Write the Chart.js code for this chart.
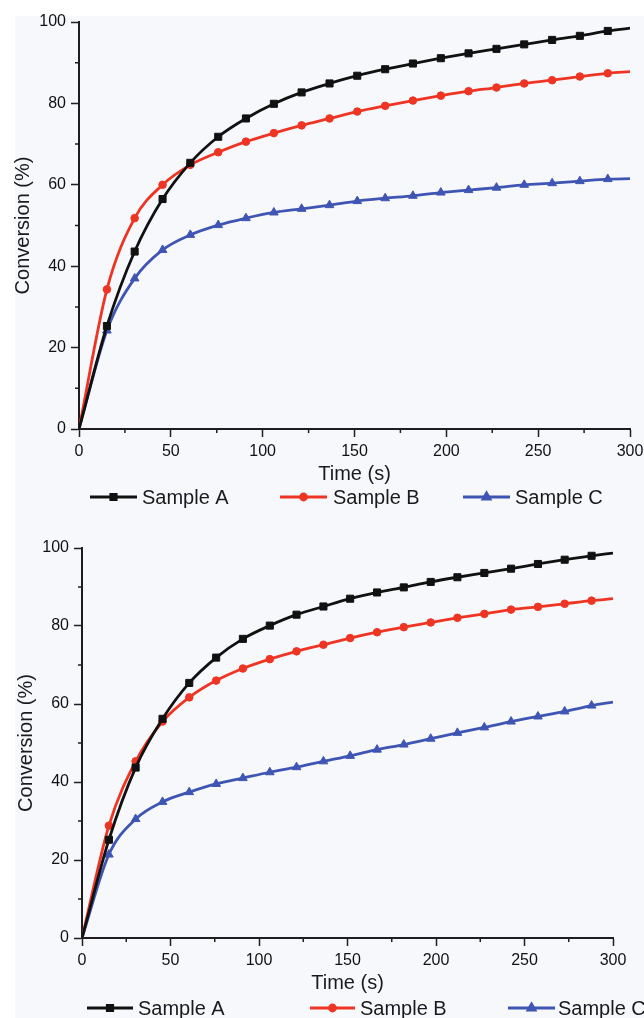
<!DOCTYPE html>
<html>
<head>
<meta charset="utf-8">
<script src="https://cdn.jsdelivr.net/npm/chart.js@4/dist/chart.umd.min.js"></script>
<style>
  html, body { margin: 0; padding: 0; background: #ffffff; }
  body { width: 644px; height: 1018px; position: relative; overflow: hidden; }
  #bg { position: absolute; left: 15px; top: 16px; width: 629px; height: 1002px; background: #f7f8fc; }
  canvas { position: absolute; left: 0; }
  #top { top: 0; }
  #bottom { top: 510px; }
</style>
</head>
<body>
<div id="bg"></div>
<canvas id="top" width="644" height="510"></canvas>
<canvas id="bottom" width="644" height="508"></canvas>
<script>
// time points (s) where the markers sit, last one is the curve end
const times = [0, 15.2, 30.3, 45.5, 60.6, 75.8, 90.9, 106.1, 121.2, 136.4, 151.5, 166.7, 181.8, 197.0, 212.1, 227.3, 242.4, 257.6, 272.7, 287.9, 300];

const seriesNames = ['Sample A', 'Sample B', 'Sample C'];

// upper panel
const topA = [0, 25.3, 43.6, 56.5, 65.4, 71.8, 76.3, 79.9, 82.7, 84.9, 86.8, 88.4, 89.8, 91.1, 92.3, 93.4, 94.5, 95.6, 96.6, 97.8, 98.5];
const topB = [0, 34.3, 51.8, 60.0, 64.9, 68.0, 70.6, 72.7, 74.6, 76.3, 78.0, 79.4, 80.7, 81.9, 83.0, 83.9, 84.9, 85.7, 86.6, 87.4, 87.8];
const topC = [0, 24.2, 37.0, 44.0, 47.7, 50.1, 51.8, 53.2, 54.1, 55.0, 56.0, 56.7, 57.3, 58.1, 58.7, 59.3, 60.0, 60.4, 60.9, 61.4, 61.5];

// lower panel
const botA = [0, 25.2, 43.7, 56.2, 65.4, 71.9, 76.7, 80.1, 82.9, 85.0, 87.0, 88.6, 89.9, 91.3, 92.5, 93.6, 94.7, 95.9, 97.0, 98.0, 98.7];
const botB = [0, 28.8, 45.3, 55.5, 61.7, 66.0, 69.1, 71.5, 73.5, 75.2, 76.9, 78.4, 79.7, 80.9, 82.1, 83.1, 84.2, 84.9, 85.7, 86.5, 87.0];
const botC = [0, 21.4, 30.5, 34.9, 37.4, 39.5, 41.0, 42.5, 43.8, 45.3, 46.7, 48.3, 49.6, 51.1, 52.6, 54.0, 55.5, 56.8, 58.1, 59.6, 60.5];

const yMajor = [0, 20, 40, 60, 80, 100];
const yMinor = [10, 30, 50, 70, 90];
const xMajor = [0, 50, 100, 150, 200, 250, 300];
const xMinor = [25, 75, 125, 175, 225, 275];

const colors = ['#111111', '#ee3524', '#3f55b3'];
const markers = ['rect', 'circle', 'triangle'];
const markerSize = [5, 3.8, 5];
const legendMarker = [3.8, 3, 4];
const FONT = '"Liberation Sans", Arial, sans-serif';
const AXIS = '#1e1e1e';

// minor ticks + hand drawn legend (line with marker in the middle)
const extrasPlugin = {
    id: 'extras',
    afterDraw(chart, args, opts) {
        const ctx = chart.ctx;
        const xs = chart.scales.x, ys = chart.scales.y;
        ctx.save();
        ctx.strokeStyle = AXIS;
        ctx.lineWidth = 1.5;
        ctx.beginPath();
        yMinor.forEach(v => {
            const p = ys.getPixelForValue(v);
            ctx.moveTo(ys.right - 4, p);
            ctx.lineTo(ys.right, p);
        });
        xMinor.forEach(v => {
            const p = xs.getPixelForValue(v);
            ctx.moveTo(p, xs.top);
            ctx.lineTo(p, xs.top + 4);
        });
        ctx.stroke();

        // legend
        chart.data.datasets.forEach((ds, i) => {
            const it = opts.items[i];
            const y = opts.y;
            ctx.strokeStyle = ds.borderColor;
            ctx.lineWidth = 2.8;
            ctx.beginPath();
            ctx.moveTo(it[0], y);
            ctx.lineTo(it[1], y);
            ctx.stroke();
            Chart.helpers.drawPoint(ctx, {
                pointStyle: ds.pointStyle,
                radius: legendMarker[i],
                borderWidth: 1
            }, (it[0] + it[1]) / 2, y);
            ctx.fillStyle = ds.borderColor;
            ctx.fill();
            ctx.fillStyle = '#1a1a1a';
            ctx.font = '20px ' + FONT;
            ctx.textBaseline = 'middle';
            ctx.textAlign = 'left';
            ctx.fillText(ds.label, it[2], y + 1);
        });
        ctx.restore();
    }
};

function makeChart(id, values, padding, legend) {
    const ctx = document.getElementById(id).getContext('2d');
    const datasets = values.map((vals, i) => ({
        label: seriesNames[i],
        data: times.map((t, k) => ({ x: t, y: vals[k] })),
        borderColor: colors[i],
        backgroundColor: colors[i],
        borderWidth: 2.8,
        pointStyle: markers[i],
        pointRadius: times.map((t, k) => (k === 0 || k === times.length - 1) ? 0 : markerSize[i]),
        pointBorderWidth: 1,
        cubicInterpolationMode: 'monotone',
        fill: false
    }));

    return new Chart(ctx, {
        type: 'line',
        data: { datasets: datasets },
        options: {
            responsive: false,
            animation: false,
            layout: { padding: padding },
            plugins: {
                legend: { display: false },
                tooltip: { enabled: false },
                extras: legend
            },
            scales: {
                x: {
                    type: 'linear',
                    min: 0,
                    max: 300,
                    afterBuildTicks: s => { s.ticks = xMajor.map(v => ({ value: v })); },
                    afterFit: s => { s.height = 57; s.paddingLeft = 0; s.paddingRight = 0; },
                    grid: { drawOnChartArea: false, tickLength: 8, tickColor: AXIS, tickWidth: 1.5 },
                    border: { color: AXIS, width: 2 },
                    ticks: { color: '#111', font: { family: FONT, size: 16 }, padding: 5, maxRotation: 0 },
                    title: {
                        display: true,
                        text: 'Time (s)',
                        color: '#1a1a1a',
                        font: { family: FONT, size: 20 },
                        padding: { top: 0, bottom: 0 }
                    }
                },
                y: {
                    min: 0,
                    max: 100,
                    afterBuildTicks: s => { s.ticks = yMajor.map(v => ({ value: v })); },
                    afterFit: s => { s.width = 68; s.paddingTop = 0; s.paddingBottom = 0; },
                    grid: { drawOnChartArea: false, tickLength: 8, tickColor: AXIS, tickWidth: 1.5 },
                    border: { color: AXIS, width: 2 },
                    ticks: { color: '#111', font: { family: FONT, size: 16 }, padding: 5 },
                    title: {
                        display: true,
                        text: 'Conversion (%)',
                        color: '#1a1a1a',
                        font: { family: FONT, size: 20 },
                        padding: { top: 0, bottom: 0 }
                    }
                }
            }
        },
        plugins: [extrasPlugin]
    });
}

makeChart('top', [topA, topB, topC],
    { left: 11, right: 14, top: 22, bottom: 24 },
    { y: 497, items: [[90, 137, 142], [280, 327, 333], [463, 510, 515]] });

makeChart('bottom', [botA, botB, botC],
    { left: 14, right: 31, top: 38, bottom: 23 },
    { y: 498, items: [[87, 133, 138], [310, 355, 360], [508, 555, 558]] });
</script>
</body>
</html>
